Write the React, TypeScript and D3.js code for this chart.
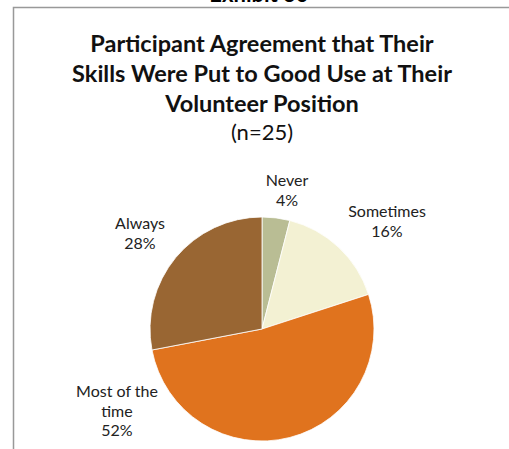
import React from 'react';
import * as d3 from 'd3';

const categories = ['Never', 'Sometimes', 'Most of the time', 'Always'];
const values = [4, 16, 52, 28];
const colors = ['#b9bd94', '#f3f1d3', '#e0731e', '#996633'];
const titleLines = ['Participant Agreement that Their', 'Skills Were Put to Good Use at Their', 'Volunteer Position'];
const subtitle = '(n=25)';

// label lines as shown next to each slice
const labelLines = [['Never', '4%'], ['Sometimes', '16%'], ['Most of the', 'time', '52%'], ['Always', '28%']];
const labelPos: [number, number][] = [[287, 186], [387, 217], [117, 397], [140, 229]];

const W = 509;
const H = 449;
const cx = 262;
const cy = 329;
const r = 112;

export default function App() {
  const pie = d3.pie<number>().sort(null).value(d => d);
  const arcs = pie(values);
  const arc = d3.arc<d3.PieArcDatum<number>>().innerRadius(0).outerRadius(r);
  const font = 'Lato, "Open Sans", sans-serif';

  return (
    <svg width={W} height={H} style={{ position: 'absolute', left: 0, top: 0, background: '#fff' }}>
      {/* exhibit heading sits above the crop, only its bottom shows */}
      <text x={259} y={2} textAnchor="middle" fontFamily={font} fontWeight="bold" fontSize={22}>Exhibit 30</text>
      <path d={`M13.5,${H} V7.5 H${W}`} fill="none" stroke="#999" strokeWidth={1.5} />
      {titleLines.map((t, i) => (
        <text key={t} x={262} y={52 + i * 30} textAnchor="middle" fontFamily={font} fontWeight="bold" fontSize={23.5} fill="#111">{t}</text>
      ))}
      <text x={262} y={140} textAnchor="middle" fontFamily={font} fontSize={22} fill="#111">{subtitle}</text>
      <g transform={`translate(${cx},${cy})`}>
        {arcs.map((a, i) => (
          <path key={categories[i]} d={arc(a) ?? ''} fill={colors[i]} stroke="#fff" strokeWidth={0.8} />
        ))}
      </g>
      {labelLines.map((lines, i) => (
        <text key={categories[i]} x={labelPos[i][0]} y={labelPos[i][1]} textAnchor="middle" fontFamily={font} fontSize={16} fill="#222">
          {lines.map((l, j) => (
            <tspan key={j} x={labelPos[i][0]} dy={j === 0 ? 0 : 19.5}>{l}</tspan>
          ))}
        </text>
      ))}
    </svg>
  );
}
